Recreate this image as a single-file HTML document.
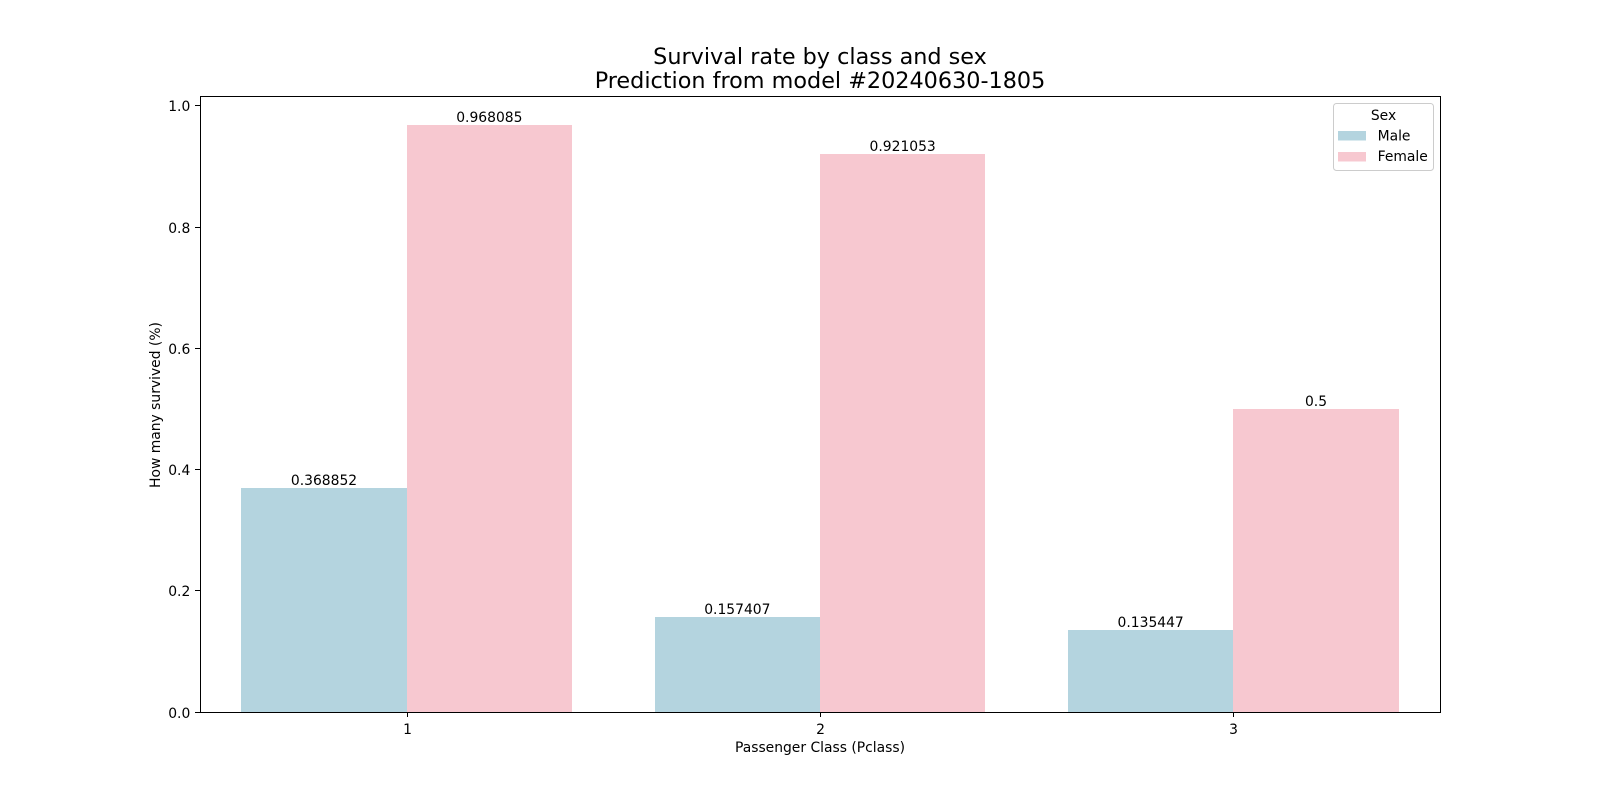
<!DOCTYPE html>
<html>
<head>
<meta charset="utf-8">
<title>Survival rate by class and sex</title>
<style>
html,body{margin:0;padding:0;background:#fff;width:1600px;height:800px;overflow:hidden}
svg{display:block}
text{font-family:"DejaVu Sans","Liberation Sans",sans-serif;fill:#000}
</style>
</head>
<body>
<svg id="chart" xmlns="http://www.w3.org/2000/svg" width="1600" height="800" viewBox="0 0 1600 800">
  <rect x="0" y="0" width="1600" height="800" fill="#ffffff"/>
  <text x="820" y="64" font-size="22.32" text-anchor="middle">Survival rate by class and sex</text>
  <text x="820" y="88" font-size="22.32" text-anchor="middle">Prediction from model #20240630-1805</text>
  <g id="bars"></g>
  <g id="bar-labels"></g>
  <g id="x-axis"></g>
  <g id="y-axis"></g>
  <rect x="200.5" y="96.5" width="1240" height="616" fill="none" stroke="#000" stroke-width="1"/>
  <text x="820" y="752" font-size="13.89" text-anchor="middle">Passenger Class (Pclass)</text>
  <text x="0" y="0" font-size="13.89" text-anchor="middle" transform="translate(160 405) rotate(-90)">How many survived (%)</text>
  <g>
    <rect x="1333.5" y="103.5" width="100" height="67" rx="3" fill="#ffffff" fill-opacity="0.8" stroke="#cccccc" stroke-width="1"/>
    <text x="1383.5" y="120" font-size="13.89" text-anchor="middle">Sex</text>
    <rect x="1338" y="131" width="28" height="9.5" fill="#b4d4df"/>
    <text x="1377.6" y="140.5" font-size="13.89">Male</text>
    <rect x="1338" y="152" width="28" height="9.5" fill="#f7c8d0"/>
    <text x="1377.6" y="161" font-size="13.89">Female</text>
  </g>
</svg>
<script>
const categories = ["1", "2", "3"];
const maleValues = [0.368852, 0.157407, 0.135447];
const femaleValues = [0.968085, 0.921053, 0.5];
const yTicks = [0, 0.2, 0.4, 0.6, 0.8, 1.0];
const NS = "http://www.w3.org/2000/svg";
const plot = {left: 200, right: 1440, top: 96, bottom: 712};
const yMax = Math.max(...maleValues, ...femaleValues) * 1.05;
const bandWidth = (plot.right - plot.left) / categories.length;
const barWidth = bandWidth * 0.4;
function xCenter(i) { return plot.left + bandWidth * (i + 0.5); }
function yScale(v) { return plot.bottom - (v / yMax) * (plot.bottom - plot.top); }
function make(tag, attrs, parent, content) {
  const el = document.createElementNS(NS, tag);
  for (const k in attrs) el.setAttribute(k, attrs[k]);
  if (content !== undefined) el.textContent = content;
  parent.appendChild(el);
  return el;
}
const barsGroup = document.getElementById("bars");
const labelsGroup = document.getElementById("bar-labels");
const xAxisGroup = document.getElementById("x-axis");
const yAxisGroup = document.getElementById("y-axis");
function drawSeries(values, color, offset, seriesName) {
  values.forEach(function (v, i) {
    const x = xCenter(i) + offset * barWidth;
    const x0 = Math.round(x);
    const x1 = Math.round(x + barWidth);
    const top = Math.round(yScale(v));
    const bar = make("rect", {x: x0, y: top, width: x1 - x0, height: plot.bottom - top, fill: color}, barsGroup);
    
    
    const label = make("text", {x: x + barWidth / 2, y: Math.round(yScale(v) - 3), "font-size": 13.89, "text-anchor": "middle"}, labelsGroup, String(parseFloat(v.toPrecision(6))));
    
    
  });
}
drawSeries(maleValues, "#b4d4df", -1, "male");
drawSeries(femaleValues, "#f7c8d0", 0, "female");
categories.forEach(function (c, i) {
  const x = Math.floor(xCenter(i) + 0.5) + 0.5;
  const tick = make("line", {x1: x, x2: x, y1: plot.bottom, y2: plot.bottom + 5, stroke: "#000", "stroke-width": 1}, xAxisGroup);
  
  
  const label = make("text", {x: x, y: 734, "font-size": 13.89, "text-anchor": "middle"}, xAxisGroup, c);
  
  
});
yTicks.forEach(function (t) {
  const y = Math.floor(yScale(t)) + 0.5;
  const tick = make("line", {x1: plot.left - 5, x2: plot.left, y1: y, y2: y, stroke: "#000", "stroke-width": 1}, yAxisGroup);
  
  
  const label = make("text", {x: plot.left - 9.7, y: Math.round(yScale(t) + 5.5), "font-size": 13.89, "text-anchor": "end"}, yAxisGroup, t.toFixed(1));
  
  
});
</script>
</body>
</html>
